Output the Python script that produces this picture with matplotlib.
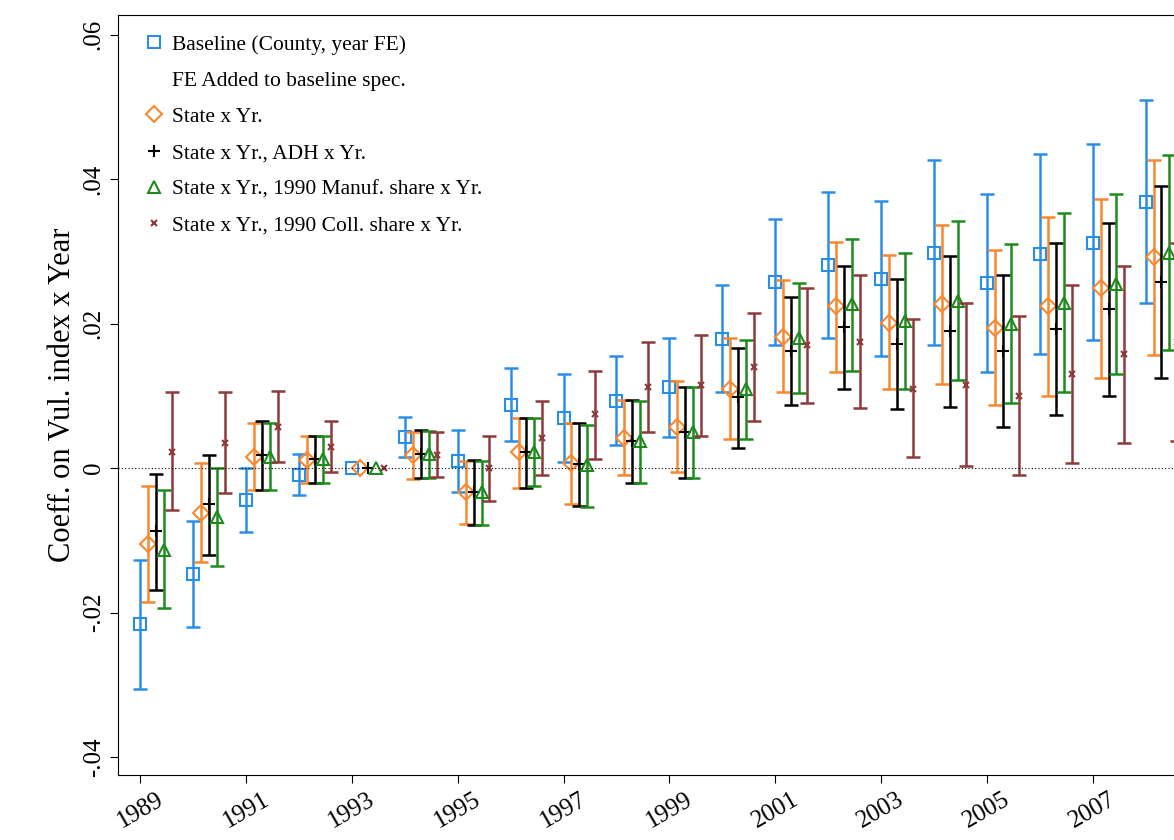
import numpy as np
import matplotlib.pyplot as plt
from matplotlib.lines import Line2D

plt.rcParams['font.family'] = ['Liberation Serif', 'DejaVu Serif']

years = np.arange(1989, 2009)

blue = [-0.0215, -0.0147, -0.0044, -0.0009, 0, 0.0043, 0.0010, 0.0088, 0.0069, 0.0093,
        0.0112, 0.0179, 0.0258, 0.0281, 0.0262, 0.0298, 0.0256, 0.0296, 0.0312, 0.0368]
blue_lo = [-0.0305, -0.0220, -0.0088, -0.0037, 0, 0.0015, -0.0033, 0.0038, 0.0008, 0.0032,
           0.0043, 0.0105, 0.0170, 0.0180, 0.0155, 0.0170, 0.0133, 0.0158, 0.0177, 0.0228]
blue_hi = [-0.0127, -0.0073, 0.0000, 0.0020, 0, 0.0071, 0.0053, 0.0138, 0.0130, 0.0155,
           0.0180, 0.0254, 0.0345, 0.0382, 0.0370, 0.0427, 0.0379, 0.0435, 0.0448, 0.0510]

orange = [-0.0105, -0.0062, 0.0016, 0.0012, 0, 0.0018, -0.0033, 0.0022, 0.0007, 0.0042,
          0.0057, 0.0110, 0.0182, 0.0224, 0.0201, 0.0227, 0.0194, 0.0224, 0.0250, 0.0292]
orange_lo = [-0.0185, -0.0130, -0.0030, -0.0020, 0, -0.0015, -0.0077, -0.0027, -0.0050, -0.0010,
             -0.0005, 0.0040, 0.0105, 0.0133, 0.0110, 0.0117, 0.0087, 0.0100, 0.0125, 0.0157]
orange_hi = [-0.0025, 0.0007, 0.0062, 0.0045, 0, 0.0050, 0.0010, 0.0070, 0.0063, 0.0095,
             0.0120, 0.0180, 0.0260, 0.0313, 0.0295, 0.0336, 0.0302, 0.0347, 0.0372, 0.0426]

black = [-0.0087, -0.0050, 0.0018, 0.0013, 0, 0.0020, -0.0033, 0.0022, 0.0006, 0.0037,
         0.0050, 0.0098, 0.0162, 0.0195, 0.0172, 0.0190, 0.0162, 0.0192, 0.0220, 0.0258]
black_lo = [-0.0168, -0.0120, -0.0030, -0.0020, 0, -0.0013, -0.0078, -0.0027, -0.0052, -0.0020,
            -0.0013, 0.0028, 0.0088, 0.0110, 0.0082, 0.0085, 0.0057, 0.0073, 0.0100, 0.0125]
black_hi = [-0.0008, 0.0018, 0.0066, 0.0045, 0, 0.0053, 0.0012, 0.0070, 0.0063, 0.0094,
            0.0112, 0.0167, 0.0237, 0.0280, 0.0262, 0.0293, 0.0267, 0.0312, 0.0340, 0.0390]

green = [-0.0113, -0.0067, 0.0016, 0.0013, 0, 0.0019, -0.0033, 0.0023, 0.0004, 0.0037,
         0.0050, 0.0110, 0.0180, 0.0227, 0.0204, 0.0232, 0.0200, 0.0228, 0.0255, 0.0298]
green_lo = [-0.0193, -0.0135, -0.0030, -0.0020, 0, -0.0013, -0.0078, -0.0025, -0.0053, -0.0020,
            -0.0013, 0.0040, 0.0104, 0.0135, 0.0110, 0.0122, 0.0090, 0.0105, 0.0130, 0.0163]
green_hi = [-0.0030, 0.0000, 0.0063, 0.0045, 0, 0.0052, 0.0010, 0.0070, 0.0060, 0.0093,
            0.0112, 0.0178, 0.0256, 0.0317, 0.0298, 0.0342, 0.0310, 0.0353, 0.0380, 0.0433]

red = [0.0023, 0.0035, 0.0057, 0.0030, 0, 0.0018, 0.0000, 0.0042, 0.0075, 0.0113,
       0.0115, 0.0140, 0.0170, 0.0175, 0.0110, 0.0115, 0.0100, 0.0130, 0.0158, 0.0175]
red_lo = [-0.0058, -0.0035, 0.0008, -0.0005, 0, -0.0012, -0.0045, -0.0010, 0.0013, 0.0050,
          0.0045, 0.0065, 0.0090, 0.0083, 0.0015, 0.0003, -0.0010, 0.0007, 0.0035, 0.0038]
red_hi = [0.0105, 0.0105, 0.0107, 0.0065, 0, 0.0050, 0.0045, 0.0093, 0.0135, 0.0175,
          0.0185, 0.0215, 0.0250, 0.0267, 0.0207, 0.0228, 0.0210, 0.0254, 0.0280, 0.0312]

series = [
    ("Baseline (County, year FE)", blue, blue_lo, blue_hi, '#2a8ee8', 's', 0.0, 8),
    ("State x Yr.", orange, orange_lo, orange_hi, '#f7882f', 'D', 0.15, 8),
    ("State x Yr., ADH x Yr.", black, black_lo, black_hi, 'black', '+', 0.30, 9),
    ("State x Yr., 1990 Manuf. share x Yr.", green, green_lo, green_hi, '#1e8a1e', '^', 0.45, 9),
    ("State x Yr., 1990 Coll. share x Yr.", red, red_lo, red_hi, '#8c3a3a', 'x', 0.60, 4),
]

fig = plt.figure(figsize=(11.74, 8.4), dpi=100)
ax = fig.add_axes([0.1005, 0.077, 0.91, 0.905])

handles = []
for label, v, lo, hi, col, mk, off, ms in series:
    v = np.array(v); lo = np.array(lo); hi = np.array(hi)
    x = years + off
    mask = hi != lo
    ax.errorbar(x[mask], v[mask], yerr=[v[mask] - lo[mask], hi[mask] - v[mask]],
                fmt='none', ecolor=col, elinewidth=1.8, capsize=5, capthick=1.8)
    ax.plot(x, v, linestyle='none', marker=mk, markersize=ms, markerfacecolor='none',
            markeredgecolor=col, markeredgewidth=1.5)
    handles.append(Line2D([], [], linestyle='none', marker=mk, markersize=ms,
                          markerfacecolor='none', markeredgecolor=col, markeredgewidth=1.5,
                          label=label))
    if len(handles) == 1:
        handles.append(Line2D([], [], linestyle='none', label="FE Added to baseline spec."))

ax.axhline(0, color='black', linestyle=(0, (1, 2)), linewidth=0.8)
ax.set_xlim(1988.58, 2008.77)
ax.set_ylim(-0.0425, 0.0627)
ax.set_xticks(np.arange(1989, 2009, 2))
ax.set_xticklabels([str(y) for y in range(1989, 2009, 2)], rotation=30, fontsize=18)
yt = [-0.04, -0.02, 0, 0.02, 0.04, 0.06]
ax.set_yticks(yt)
ax.set_yticklabels(['-.04', '-.02', '0', '.02', '.04', '.06'], rotation=90, va='center', fontsize=18)
ax.set_ylabel("Coeff. on Vul. index x Year", fontsize=22)
ax.spines['right'].set_visible(False)
ax.tick_params(length=6)
ax.legend(handles=handles, loc='upper left', frameon=False, fontsize=15.5,
          handletextpad=0.1, labelspacing=0.75, borderaxespad=0.5, handlelength=1.5)

fig.savefig('out.png', dpi=100)
